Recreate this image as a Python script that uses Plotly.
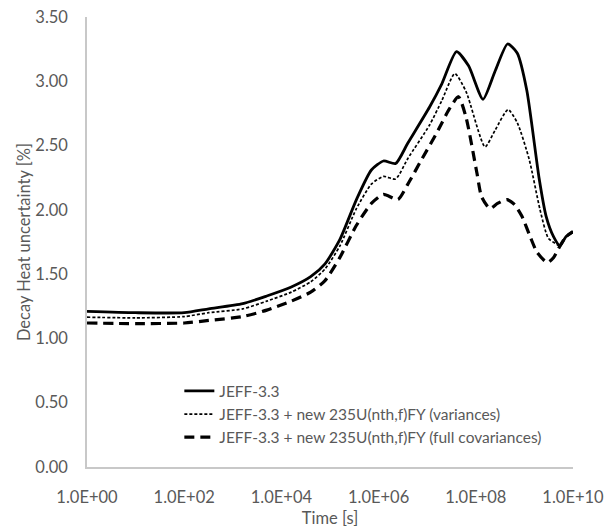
import plotly.graph_objects as go

# Time [s] and decay-heat uncertainty [%]
t_jeff = [1e0, 1e1, 1e2, 3.2e2, 1.6e3, 5.0e3, 1.6e4, 4.0e4, 7.9e4, 1.6e5, 3.5e5,
          7.1e5, 1.26e6, 2.24e6, 4.0e6, 1.12e7, 2.0e7, 4.0e7, 7.1e7, 1.41e8,
          2.5e8, 4.5e8, 7.1e8, 1.12e9, 2.0e9, 2.8e9, 4.0e9, 5.4e9, 7.1e9, 1e10]
y_jeff = [1.21, 1.20, 1.20, 1.23, 1.27, 1.33, 1.40, 1.48, 1.58, 1.77, 2.08,
          2.31, 2.38, 2.36, 2.52, 2.80, 2.98, 3.23, 3.12, 2.86,
          3.08, 3.29, 3.22, 2.93, 2.25, 1.95, 1.79, 1.72, 1.79, 1.83]

t_var = [1e0, 1e1, 1e2, 3.2e2, 1.6e3, 5.0e3, 1.6e4, 4.0e4, 7.9e4, 1.6e5, 3.5e5,
         7.1e5, 1.26e6, 2.24e6, 4.0e6, 1.12e7, 2.0e7, 3.7e7, 6.3e7, 1.55e8,
         2.5e8, 4.6e8, 7.1e8, 1.26e9, 2.1e9, 3.1e9, 4.7e9, 5.4e9, 7.1e9, 1e10]
y_var = [1.165, 1.16, 1.17, 1.20, 1.23, 1.29, 1.36, 1.44, 1.54, 1.72, 2.01,
         2.20, 2.26, 2.24, 2.40, 2.66, 2.85, 3.06, 2.92, 2.49,
         2.62, 2.78, 2.68, 2.39, 2.00, 1.78, 1.73, 1.72, 1.79, 1.83]

t_cov = [1e0, 1e1, 1e2, 3.2e2, 1.6e3, 5.0e3, 1.6e4, 4.0e4, 7.9e4, 1.6e5, 3.5e5,
         7.1e5, 1.26e6, 2.5e6, 4.0e6, 7.9e6, 1.58e7, 2.8e7, 4.4e7, 6.3e7,
         1.05e8, 1.32e8, 1.95e8, 2.8e8, 4.4e8, 6.3e8, 8.9e8, 1.32e9, 1.82e9,
         2.95e9, 4.0e9, 5.4e9, 7.1e9, 1e10]
y_cov = [1.12, 1.115, 1.12, 1.14, 1.17, 1.22, 1.29, 1.36, 1.45, 1.63, 1.88,
         2.05, 2.12, 2.08, 2.20, 2.40, 2.60, 2.78, 2.88, 2.72,
         2.29, 2.10, 2.01, 2.05, 2.08, 2.04, 1.95, 1.79, 1.67,
         1.59, 1.63, 1.72, 1.79, 1.83]

names = ["JEFF-3.3",
         "JEFF-3.3 + new 235U(nth,f)FY (variances)",
         "JEFF-3.3 + new 235U(nth,f)FY (full covariances)"]

x_tickvals = [1e0, 1e2, 1e4, 1e6, 1e8, 1e10]
x_ticktext = ["1.0E+00", "1.0E+02", "1.0E+04", "1.0E+06", "1.0E+08", "1.0E+10"]

FONT = "Lato, 'Open Sans', sans-serif"
GREY = "#595959"

fig = go.Figure()
fig.add_trace(go.Scatter(x=t_cov, y=y_cov, name=names[2], mode="lines", legendgroup="c",
                         line=dict(color="black", width=3.2, dash="10px,6px", shape="spline", smoothing=0.6)))
fig.add_trace(go.Scatter(x=t_var, y=y_var, name=names[1], mode="lines", legendgroup="b",
                         line=dict(color="black", width=1.7, dash="3px,2px", shape="spline", smoothing=0.6)))
fig.add_trace(go.Scatter(x=t_jeff, y=y_jeff, name=names[0], mode="lines", legendgroup="a",
                         line=dict(color="black", width=2.8, shape="spline", smoothing=0.6)))

# the page body adds an 8px offset, so the figure is 8px smaller than the window
fig.update_layout(
    width=604, height=520,
    margin=dict(l=79, r=39, t=9, b=61, autoexpand=False),
    paper_bgcolor="white", plot_bgcolor="white",
    font=dict(family=FONT, size=15, color=GREY),
    showlegend=True,
    legend=dict(x=0.19, y=0.206, xanchor="left", yanchor="top",
                traceorder="reversed", bgcolor="rgba(0,0,0,0)",
                font=dict(family=FONT, size=15.5, color=GREY),
                itemwidth=30, tracegroupgap=10),
)
fig.update_xaxes(type="log", range=[0, 10], tickvals=x_tickvals, ticktext=x_ticktext,
                 automargin=False, tickfont=dict(size=16.5), ticklabeloverflow="allow",
                 showgrid=False, zeroline=False, showline=True, linecolor="#c8c8c8",
                 linewidth=1.5, ticks="", ticklabelstandoff=14,
                 title=dict(text="Time [s]", standoff=10, font=dict(size=16.5, color=GREY)))
fig.update_yaxes(range=[0, 3.5], dtick=0.5, tickformat=".2f",
                 automargin=False, tickfont=dict(size=16.5), ticklabeloverflow="allow",
                 showgrid=False, zeroline=False, showline=True, linecolor="#c8c8c8",
                 linewidth=1.5, ticks="", ticklabelstandoff=14,
                 title=dict(text="Decay Heat uncertainty [%]", standoff=1,
                            font=dict(size=16.5, color=GREY)))

fig.write_html("out.html")
